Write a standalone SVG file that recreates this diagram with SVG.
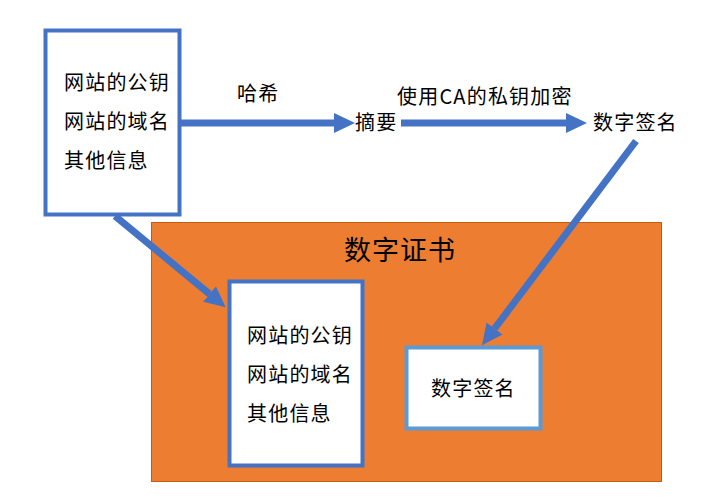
<svg xmlns="http://www.w3.org/2000/svg" width="719" height="500" viewBox="0 0 719 500">
<style>
text{font-family:"Noto Sans CJK SC","Microsoft YaHei",sans-serif;fill:#000;}
.t{font-size:20px;letter-spacing:1.2px;}
.big{font-size:27px;letter-spacing:1px;}
.conn{stroke:#4472C4;stroke-width:7;fill:none;}
</style>
<defs>
<marker id="ah" markerUnits="userSpaceOnUse" markerWidth="22" markerHeight="22" refX="0" refY="10" orient="auto" viewBox="0 0 22 20">
<path d="M0,0 L21,10 L0,20 z" fill="#4472C4"/>
</marker>
</defs>
<rect width="719" height="500" fill="#fff"/>
<g id="cert">
<rect x="151.5" y="222.5" width="510" height="259" fill="#ED7D31" stroke="#C55A11" stroke-width="1"/>
<text class="big" x="344" y="260">数字证书</text>
</g>
<g id="source">
<rect x="45.5" y="30.5" width="134" height="184" fill="#fff" stroke="#4472C4" stroke-width="4"/>
<text class="t" x="64" y="90">网站的公钥</text>
<text class="t" x="64" y="129">网站的域名</text>
<text class="t" x="64" y="168">其他信息</text>
</g>
<g id="digest">
<text class="t" x="355" y="130">摘要</text>
</g>
<g id="signature">
<text class="t" x="593" y="130">数字签名</text>
</g>
<g id="cert-info">
<rect x="229.5" y="281.5" width="133" height="184" fill="#fff" stroke="#4472C4" stroke-width="4"/>
<text class="t" x="247" y="343">网站的公钥</text>
<text class="t" x="247" y="382">网站的域名</text>
<text class="t" x="247" y="421">其他信息</text>
</g>
<g id="cert-sig">
<rect x="406.5" y="347.5" width="134" height="81" fill="#fff" stroke="#5B9BD5" stroke-width="4"/>
<text class="t" x="431" y="396">数字签名</text>
</g>
<g id="connectors">
<line class="conn" x1="181" y1="123" x2="334" y2="123" marker-end="url(#ah)"/>
<line class="conn" x1="401" y1="123" x2="566" y2="123" marker-end="url(#ah)"/>
<line class="conn" x1="636" y1="141" x2="494.6" y2="328.5" marker-end="url(#ah)"/>
<line class="conn" x1="115" y1="216" x2="209.5" y2="294" marker-end="url(#ah)"/>
<text class="t" x="237" y="101">哈希</text>
<text class="t" x="397" y="104">使用CA的私钥加密</text>
</g>
</svg>
